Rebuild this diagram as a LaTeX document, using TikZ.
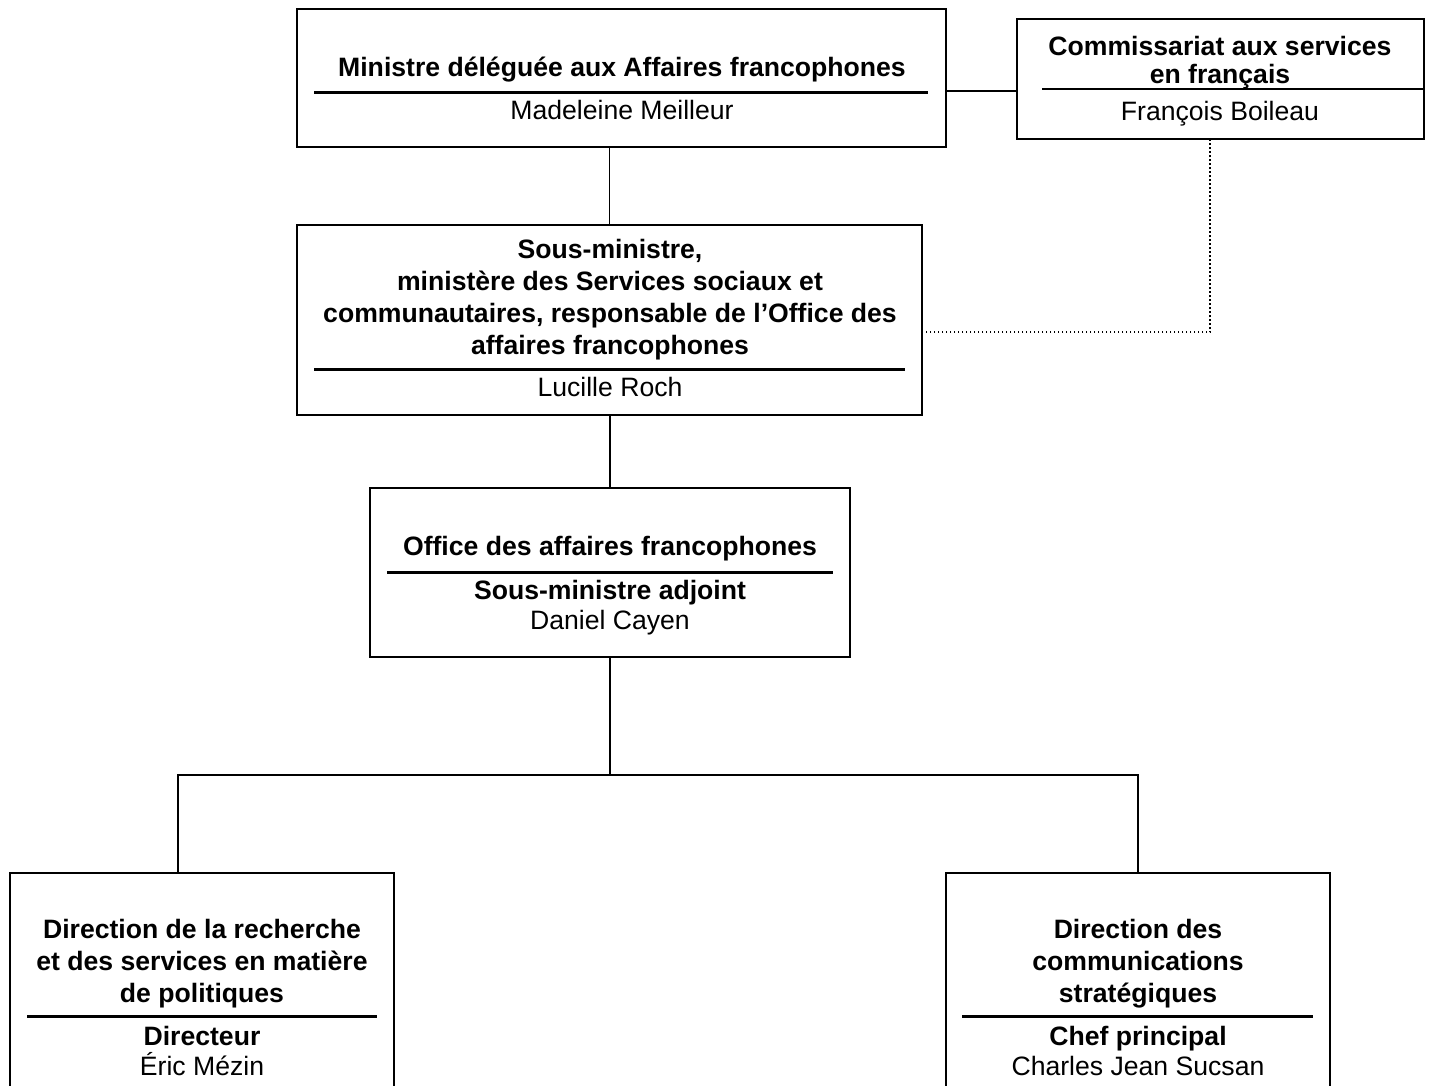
\documentclass[tikz,border=0pt]{standalone}
\usepackage{fontspec}
\setmainfont{Liberation Sans}
\begin{document}
\begin{tikzpicture}[x=1pt,y=-1pt,
  box/.style={draw, line width=2.5pt, inner sep=0pt, outer sep=0pt, anchor=north west, fill=white},
  thinbox/.style={box, line width=1.5pt},
  txt/.style={anchor=base, inner sep=0pt, font=\fontsize{26.6}{32}\selectfont},
  btxt/.style={anchor=base, inner sep=0pt, font=\fontsize{26.6}{32}\selectfont\bfseries},
  rulethick/.style={line width=3pt},
  rulethin/.style={line width=1.5pt},
  conn/.style={line width=1.5pt},
  dotconn/.style={line width=1.5pt, dash pattern=on 1.5pt off 2.5pt}]
\useasboundingbox (0,0) rectangle (1433,1085);

% boxes
\node[box, minimum width=649pt, minimum height=138pt] (b1) at (297,9) {};
\node[thinbox, minimum width=407pt, minimum height=120pt] (b2) at (1017,19) {};
\node[box, minimum width=625pt, minimum height=190pt] (b3) at (297,225) {};
\node[box, minimum width=480pt, minimum height=169pt] (b4) at (370,488) {};
\node[box, minimum width=384pt, minimum height=240pt] (b5) at (10,873) {};
\node[box, minimum width=384pt, minimum height=240pt] (b6) at (946,873) {};

% box 1
\node[btxt] (t1a) at (622,76) {Ministre déléguée aux Affaires francophones};
\draw[rulethick] (314,92) -- (928,92);
\node[txt] (t1b) at (622,119) {Madeleine Meilleur};

% box 2
\node[btxt] (t2a) at (1220,55) {Commissariat aux services};
\node[btxt] (t2b) at (1220,83) {en français};
\draw[rulethin] (1042,89) -- (1424,89);
\node[txt] (t2c) at (1220,120) {François Boileau};

% box 3
\node[btxt] (t3a) at (610,258) {Sous-ministre,};
\node[btxt] (t3b) at (610,290) {ministère des Services sociaux et};
\node[btxt] (t3c) at (610,322) {communautaires, responsable de l’Office des};
\node[btxt] (t3d) at (610,354) {affaires francophones};
\draw[rulethick] (314,369) -- (905,369);
\node[txt] (t3e) at (610,396) {Lucille Roch};

% box 4
\node[btxt] (t4a) at (610,555) {Office des affaires francophones};
\draw[rulethick] (387,572) -- (833,572);
\node[btxt] (t4b) at (610,599) {Sous-ministre adjoint};
\node[txt] (t4c) at (610,629) {Daniel Cayen};

% box 5
\node[btxt] (t5a) at (202,938) {Direction de la recherche};
\node[btxt] (t5b) at (202,970) {et des services en matière};
\node[btxt] (t5c) at (202,1002) {de politiques};
\draw[rulethick] (27,1016) -- (377,1016);
\node[btxt] (t5d) at (202,1045) {Directeur};
\node[txt] (t5e) at (202,1075) {Éric Mézin};

% box 6
\node[btxt] (t6a) at (1138,938) {Direction des};
\node[btxt] (t6b) at (1138,970) {communications};
\node[btxt] (t6c) at (1138,1002) {stratégiques};
\draw[rulethick] (962,1016) -- (1313,1016);
\node[btxt] (t6d) at (1138,1045) {Chef principal};
\node[txt] (t6e) at (1138,1075) {Charles Jean Sucsan};

% connectors
\coordinate (h12) at (0,91);
\coordinate (dx) at (1210,332);
\coordinate (j) at (b4.south |- 0,775);
\coordinate (t5top) at (178,873);
\draw[conn] (b1.east |- h12) -- (b2.west |- h12);
\draw[dotconn] (b2.south -| dx) |- (b3.east |- dx);
\draw[conn] (b3.north |- b1.south) -- (b3.north);
\draw[conn] (b4.north |- b3.south) -- (b4.north);
\draw[conn] (b4.south) -- (j);
\draw[conn] (j) -| (t5top);
\draw[conn] (j) -| (b6.north);
\end{tikzpicture}
\end{document}
